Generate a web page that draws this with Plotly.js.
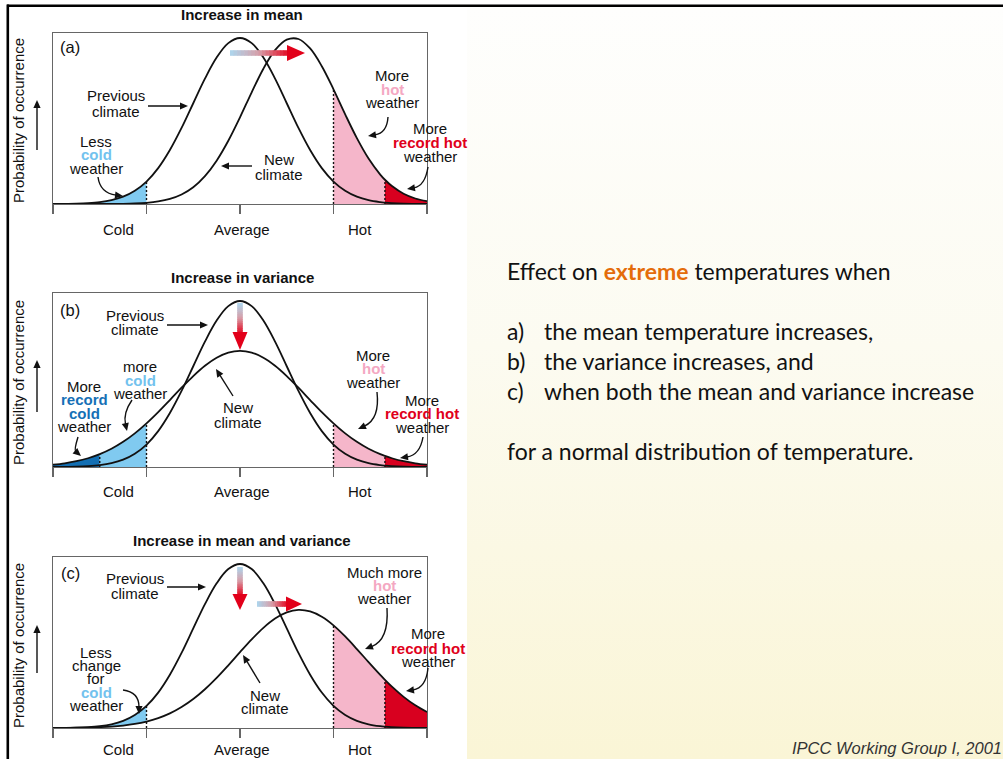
<!DOCTYPE html>
<html>
<head>
<meta charset="utf-8">
<script src="https://cdn.plot.ly/plotly-3.0.1.min.js"></script>
<style>
  html, body { margin: 0; padding: 0; background: #ffffff; }
  #wrap { position: relative; width: 1003px; height: 759px; overflow: hidden; }
  #cream { position: absolute; left: 467px; top: 7px; width: 536px; height: 752px;
           background: linear-gradient(to bottom, #fefefd 0%, #fcfbf1 45%, #faf5d6 100%); }
  #plot { position: absolute; left: 0; top: 0; width: 1003px; height: 759px; }
</style>
</head>
<body>
<div id="wrap"><div id="cream"></div><div id="plot"></div></div>
<script>
// Temperature axis (in units of the previous climate's spread; Cold = -1, Hot = +1)
const temps = [-2, -1.875, -1.75, -1.625, -1.5, -1.375, -1.25, -1.125, -1, -0.875, -0.75, -0.625,
  -0.5, -0.375, -0.25, -0.125, 0, 0.125, 0.25, 0.375, 0.5, 0.625, 0.75, 0.875, 1, 1.125, 1.25,
  1.375, 1.5, 1.55, 1.625, 1.75, 1.875, 2];

// Probability of occurrence, previous climate (same in all three panels)
const previousClimate = [0.0003, 0.0009, 0.0022, 0.0051, 0.0111, 0.0228, 0.0439, 0.0796, 0.135,
  0.216, 0.325, 0.458, 0.607, 0.755, 0.882, 0.969, 1, 0.969, 0.882, 0.755, 0.607, 0.458, 0.325,
  0.216, 0.135, 0.0796, 0.0439, 0.0228, 0.0111, 0.0082, 0.0051, 0.0022, 0.0009, 0.0003];

// (a) new climate after an increase in mean
const newClimateMean = [0, 0, 0, 0.0001, 0.0002, 0.0005, 0.0013, 0.0032, 0.0072, 0.0154, 0.0307,
  0.0575, 0.101, 0.168, 0.261, 0.381, 0.522, 0.673, 0.815, 0.927, 0.990, 0.994, 0.937, 0.830,
  0.691, 0.540, 0.397, 0.274, 0.177, 0.146, 0.108, 0.0617, 0.0332, 0.0167];

// (b) new climate after an increase in variance
const newClimateVariance = [0.0139, 0.0223, 0.0348, 0.0527, 0.0772, 0.1097, 0.1514, 0.2025,
  0.2627, 0.3305, 0.4035, 0.4775, 0.5479, 0.6099, 0.6584, 0.6894, 0.700, 0.6894, 0.6584, 0.6099,
  0.5479, 0.4775, 0.4035, 0.3305, 0.2627, 0.2025, 0.1514, 0.1097, 0.0772, 0.0665, 0.0527, 0.0348,
  0.0223, 0.0139];

// (c) new climate after an increase in mean and variance
const newClimateBoth = [0.0004, 0.0008, 0.0015, 0.0028, 0.0051, 0.0089, 0.0151, 0.0248, 0.0393,
  0.0602, 0.0891, 0.1277, 0.1766, 0.2364, 0.3057, 0.3824, 0.4624, 0.5405, 0.6108, 0.6674, 0.7049,
  0.7198, 0.7106, 0.6783, 0.6259, 0.5583, 0.4815, 0.4015, 0.3236, 0.2941, 0.2521, 0.1900, 0.1384,
  0.0974];

// Category thresholds on the temperature axis
const recordColdEdge = -1.5, coldEdge = -1, hotEdge = 1, recordHotEdge = 1.55;
const axisTicks = [-2, -1, 0, 1, 2];
const tickLabels = ['Cold', 'Average', 'Hot'];
const panelTitles = ['Increase in mean', 'Increase in variance', 'Increase in mean and variance'];
const panelLetters = ['(a)', '(b)', '(c)'];

const W = 1003, H = 759;
const C = {
  ink: '#111111', frame: '#666666',
  lightBlue: '#80caf0', darkBlue: '#136fb3', pink: '#f5b6ca', red: '#d8001f',
  coldText: '#72c2ee', hotText: '#f4a8c2', recordText: '#e0001b', recordColdText: '#1570b6'
};
const FONT = '"Liberation Sans", Arial, Helvetica, sans-serif';
const FS = 15;

// Panel frames in page pixels: top, baseline, height of the previous-climate peak
const panels = [
  { top: 33,  base: 204, peak: 166, labelY: 229 },
  { top: 293, base: 467, peak: 166, labelY: 491 },
  { top: 557, base: 728, peak: 164, labelY: 749 }
];
const LEFT = 53, RIGHT = 427;

function valueAt(curve, t) { return curve[temps.indexOf(t)]; }
function segment(curve, lo, hi) {
  const x = [], y = [];
  temps.forEach((t, i) => { if (t >= lo - 1e-9 && t <= hi + 1e-9) { x.push(t); y.push(curve[i]); } });
  return { x, y };
}

const traces = [];
function axisIds(p) { const s = p === 0 ? '' : String(p + 1); return { xaxis: 'x' + s, yaxis: 'y' + s }; }
function areaFill(p, curve, lo, hi, color) {
  const s = segment(curve, lo, hi);
  traces.push(Object.assign({ type: 'scatter', mode: 'lines', x: s.x, y: s.y, fill: 'tozeroy',
    fillcolor: color, line: { width: 0, shape: 'spline' }, hoverinfo: 'skip' }, axisIds(p)));
}
function bandFill(p, lower, upper, lo, hi, color) {
  const a = segment(lower, lo, hi), b = segment(upper, lo, hi);
  traces.push(Object.assign({ type: 'scatter', mode: 'lines', x: a.x, y: a.y,
    line: { width: 0, shape: 'spline' }, hoverinfo: 'skip' }, axisIds(p)));
  traces.push(Object.assign({ type: 'scatter', mode: 'lines', x: b.x, y: b.y, fill: 'tonexty',
    fillcolor: color, line: { width: 0, shape: 'spline' }, hoverinfo: 'skip' }, axisIds(p)));
}
function edge(p, curve, t) {
  traces.push(Object.assign({ type: 'scatter', mode: 'lines', x: [t, t], y: [0, valueAt(curve, t)],
    line: { color: C.ink, width: 1.4, dash: '2px,2px' }, hoverinfo: 'skip' }, axisIds(p)));
}
function curve(p, values) {
  traces.push(Object.assign({ type: 'scatter', mode: 'lines', x: temps, y: values,
    line: { color: C.ink, width: 1.8, shape: 'spline' }, hoverinfo: 'skip' }, axisIds(p)));
}

// (a) increase in mean
areaFill(0, previousClimate, -2, coldEdge, C.lightBlue);
areaFill(0, newClimateMean, hotEdge, recordHotEdge, C.pink);
areaFill(0, newClimateMean, recordHotEdge, 2, C.red);
edge(0, previousClimate, coldEdge);
edge(0, newClimateMean, hotEdge);
edge(0, newClimateMean, recordHotEdge);
curve(0, previousClimate);
curve(0, newClimateMean);

// (b) increase in variance
areaFill(1, newClimateVariance, -2, recordColdEdge, C.darkBlue);
areaFill(1, newClimateVariance, recordColdEdge, coldEdge, C.lightBlue);
areaFill(1, newClimateVariance, hotEdge, recordHotEdge, C.pink);
areaFill(1, newClimateVariance, recordHotEdge, 2, C.red);
edge(1, newClimateVariance, recordColdEdge);
edge(1, newClimateVariance, coldEdge);
edge(1, newClimateVariance, hotEdge);
edge(1, newClimateVariance, recordHotEdge);
curve(1, previousClimate);
curve(1, newClimateVariance);

// (c) increase in mean and variance
bandFill(2, newClimateBoth, previousClimate, -1.625, coldEdge, C.lightBlue);
areaFill(2, newClimateBoth, hotEdge, recordHotEdge, C.pink);
areaFill(2, newClimateBoth, recordHotEdge, 2, C.red);
edge(2, previousClimate, coldEdge);
edge(2, newClimateBoth, hotEdge);
edge(2, newClimateBoth, recordHotEdge);
curve(2, previousClimate);
curve(2, newClimateBoth);

// Axes for the three panels
const layout = {
  width: W, height: H, margin: { l: 0, r: 0, t: 0, b: 0 },
  paper_bgcolor: 'rgba(0,0,0,0)', plot_bgcolor: 'rgba(0,0,0,0)',
  showlegend: false, hovermode: false,
  annotations: [], shapes: []
};
panels.forEach((pn, p) => {
  const s = p === 0 ? '' : String(p + 1);
  layout['xaxis' + s] = {
    domain: [LEFT / W, RIGHT / W], range: [-2, 2], anchor: 'y' + s,
    showline: true, linecolor: C.frame, linewidth: 1.3, mirror: true,
    ticks: 'outside', ticklen: 9, tickwidth: 1.3, tickcolor: C.frame,
    tickvals: axisTicks, showticklabels: false, showgrid: false, zeroline: false, fixedrange: true
  };
  layout['yaxis' + s] = {
    domain: [1 - pn.base / H, 1 - pn.top / H], range: [0, (pn.base - pn.top) / pn.peak], anchor: 'x' + s,
    showline: true, linecolor: C.frame, linewidth: 1.3, mirror: true,
    ticks: '', showticklabels: false, showgrid: false, zeroline: false, fixedrange: true
  };
});

// Text helper (positions in page pixels)
function T(x, y, text, o) {
  o = o || {};
  layout.annotations.push({
    xref: 'paper', yref: 'paper', x: x / W, y: 1 - y / H, text: text, showarrow: false,
    xanchor: o.anchor || 'center', yanchor: 'middle', textangle: o.angle || 0, borderpad: 0,
    font: { family: o.family || FONT, size: o.size || FS, color: o.color || C.ink }
  });
}
function fx(x) { return (x / W).toFixed(5); }
function fy(y) { return (1 - y / H).toFixed(5); }

// Thin black pointer, straight or bent through a control point
function pointer(x0, y0, cx, cy, x1, y1) {
  let dx = x1 - cx, dy = y1 - cy; const L = Math.hypot(dx, dy); dx /= L; dy /= L;
  const hl = 8, hw = 3.6;
  const bx = x1 - dx * hl, by = y1 - dy * hl;
  layout.shapes.push({ type: 'path', xref: 'paper', yref: 'paper',
    path: `M${fx(x0)},${fy(y0)} Q${fx(cx)},${fy(cy)} ${fx(bx + dx)},${fy(by + dy)}`,
    line: { color: C.ink, width: 1.4 } });
  layout.shapes.push({ type: 'path', xref: 'paper', yref: 'paper',
    path: `M${fx(x1)},${fy(y1)} L${fx(bx - dy * hw)},${fy(by + dx * hw)} L${fx(bx + dy * hw)},${fy(by - dx * hw)} Z`,
    fillcolor: C.ink, line: { width: 0 } });
}
function straight(x0, y0, x1, y1) { pointer(x0, y0, (x0 + x1) / 2, (y0 + y1) / 2, x1, y1); }

// Shift arrows shaded from blue (old) to red (new)
const shiftStops = [[0, [172, 214, 238]], [0.5, [214, 160, 170]], [1, [226, 16, 40]]];
function shiftColor(f) {
  for (let i = 1; i < shiftStops.length; i++) {
    const a = shiftStops[i - 1], b = shiftStops[i];
    if (f <= b[0]) {
      const k = (f - a[0]) / (b[0] - a[0]);
      return 'rgb(' + a[1].map((v, j) => Math.round(v + (b[1][j] - v) * k)).join(',') + ')';
    }
  }
  return 'rgb(226,16,40)';
}
function shiftArrow(x0, y0, x1, y1, headLen, headHalf) {
  let dx = x1 - x0, dy = y1 - y0; const L = Math.hypot(dx, dy); dx /= L; dy /= L;
  const nx = -dy, ny = dx, sh = 2.8, n = 16, shaft = L - headLen;
  for (let i = 0; i < n; i++) {
    const a = shaft * i / n, b = Math.min(shaft * (i + 1) / n + 0.6, shaft + 0.5);
    const p = [[a, sh], [b, sh], [b, -sh], [a, -sh]].map(q => [x0 + dx * q[0] + nx * q[1], y0 + dy * q[0] + ny * q[1]]);
    layout.shapes.push({ type: 'path', xref: 'paper', yref: 'paper',
      path: 'M' + p.map(q => fx(q[0]) + ',' + fy(q[1])).join(' L') + ' Z',
      fillcolor: shiftColor((i + 0.5) / n), line: { width: 0 } });
  }
  const bx = x0 + dx * shaft, by = y0 + dy * shaft;
  layout.shapes.push({ type: 'path', xref: 'paper', yref: 'paper',
    path: `M${fx(x1)},${fy(y1)} L${fx(bx + nx * headHalf)},${fy(by + ny * headHalf)} L${fx(bx - nx * headHalf)},${fy(by - ny * headHalf)} Z`,
    fillcolor: 'rgb(226,0,26)', line: { width: 0 } });
}

// Panel furniture: titles, letters, axis labels, upward arrows
panels.forEach((pn, p) => {
  T(242, [15, 277, 540][p], '<b>' + panelTitles[p] + '</b>');
  T(70, [47, 310, 573][p], panelLetters[p], { size: 16.5 });
  T(118, pn.labelY, tickLabels[0]); T(242, pn.labelY, tickLabels[1]); T(360, pn.labelY, tickLabels[2]);
  T(18, [121, 383, 646][p], 'Probability of occurrence', { angle: -90 });
  const ay = [[150, 100], [412, 360], [673, 625]][p];
  pointer(37, ay[0], 37, (ay[0] + ay[1]) / 2, 37, ay[1]);
});

// (a) labels
T(116, 96, 'Previous'); T(116, 111, 'climate');
straight(148, 106, 188, 106);
T(96, 141, 'Less'); T(96, 155, '<b>cold</b>', { color: C.coldText }); T(96, 168, 'weather');
pointer(98, 177, 100, 193, 123, 196);
T(279, 160, 'New'); T(279, 175, 'climate');
straight(252, 166, 221, 166);
T(392, 76, 'More'); T(392, 89, '<b>hot</b>', { color: C.hotText }); T(392, 103, 'weather');
pointer(388, 117, 387, 133, 368, 136);
T(430, 128, 'More'); T(430, 142, '<b>record hot</b>', { color: C.recordText }); T(430, 156, 'weather');
pointer(428, 167, 425, 186, 407, 189);
shiftArrow(230, 53, 305, 53, 18, 8);

// (b) labels
T(135, 315, 'Previous'); T(135, 330, 'climate');
straight(167, 325, 208, 325);
T(84, 386, 'More'); T(84, 399, '<b>record</b>', { color: C.recordColdText });
T(84, 413, '<b>cold</b>', { color: C.recordColdText }); T(84, 426, 'weather');
pointer(78, 437, 74, 450, 81, 456);
T(140, 367, 'more'); T(140, 380, '<b>cold</b>', { color: C.coldText }); T(140, 393, 'weather');
pointer(132, 400, 123, 413, 127, 431);
T(238, 407, 'New'); T(238, 422, 'climate');
straight(233, 396, 216, 369);
T(373, 355, 'More'); T(373, 368, '<b>hot</b>', { color: C.hotText }); T(373, 382, 'weather');
pointer(377, 392, 380, 419, 358, 429);
T(422, 400, 'More'); T(422, 413, '<b>record hot</b>', { color: C.recordText }); T(422, 427, 'weather');
pointer(423, 437, 420, 455, 400, 458);
shiftArrow(240, 303, 240, 350, 18, 7.5);

// (c) labels
T(135, 578, 'Previous'); T(135, 593, 'climate');
straight(167, 587, 206, 587);
T(384, 572, 'Much more'); T(384, 585, '<b>hot</b>', { color: C.hotText }); T(384, 598, 'weather');
pointer(387, 608, 389, 640, 365, 649);
T(428, 633, 'More'); T(428, 648, '<b>record hot</b>', { color: C.recordText }); T(428, 661, 'weather');
pointer(428, 668, 426, 688, 406, 691);
T(96, 652, 'Less'); T(96, 665, 'change'); T(96, 678, 'for');
T(96, 692, '<b>cold</b>', { color: C.coldText }); T(96, 705, 'weather');
pointer(123, 690, 139, 692, 139, 714);
T(265, 695, 'New'); T(265, 708, 'climate');
straight(260, 683, 243, 655);
shiftArrow(240, 567, 240, 610, 16, 7.5);
shiftArrow(257, 604, 302, 604, 16, 7.5);

// Slide frame lines
layout.shapes.push({ type: 'line', xref: 'paper', yref: 'paper', x0: 7 / W, x1: 1, y0: fy(5.7), y1: fy(5.7),
  line: { color: '#000', width: 2.6 } });
layout.shapes.push({ type: 'line', xref: 'paper', yref: 'paper', x0: 7.8 / W, x1: 7.8 / W, y0: 0, y1: fy(4.5),
  line: { color: '#000', width: 2.6 } });

// Explanatory text
const BODY = 'Lato, "Open Sans", sans-serif';
const BS = 23;
T(506, 271, 'Effect on <span style="color:#e46c0a"><b>extreme</b></span> temperatures when', { anchor: 'left', family: BODY, size: BS });
const items = [['a)', 'the mean temperature increases,'], ['b)', 'the variance increases, and'],
  ['c)', 'when both the mean and variance increase']];
items.forEach((it, i) => {
  T(506, 331 + 30 * i, it[0], { anchor: 'left', family: BODY, size: BS });
  T(543, 331 + 30 * i, it[1], { anchor: 'left', family: BODY, size: BS });
});
T(506, 451, 'for a normal distribution of temperature.', { anchor: 'left', family: BODY, size: BS });
T(1003, 748, '<i>IPCC Working Group I, 2001</i>', { anchor: 'right', size: 16.5, color: '#333333' });

Plotly.newPlot('plot', traces, layout, { staticPlot: true, displayModeBar: false });
</script>
</body>
</html>
